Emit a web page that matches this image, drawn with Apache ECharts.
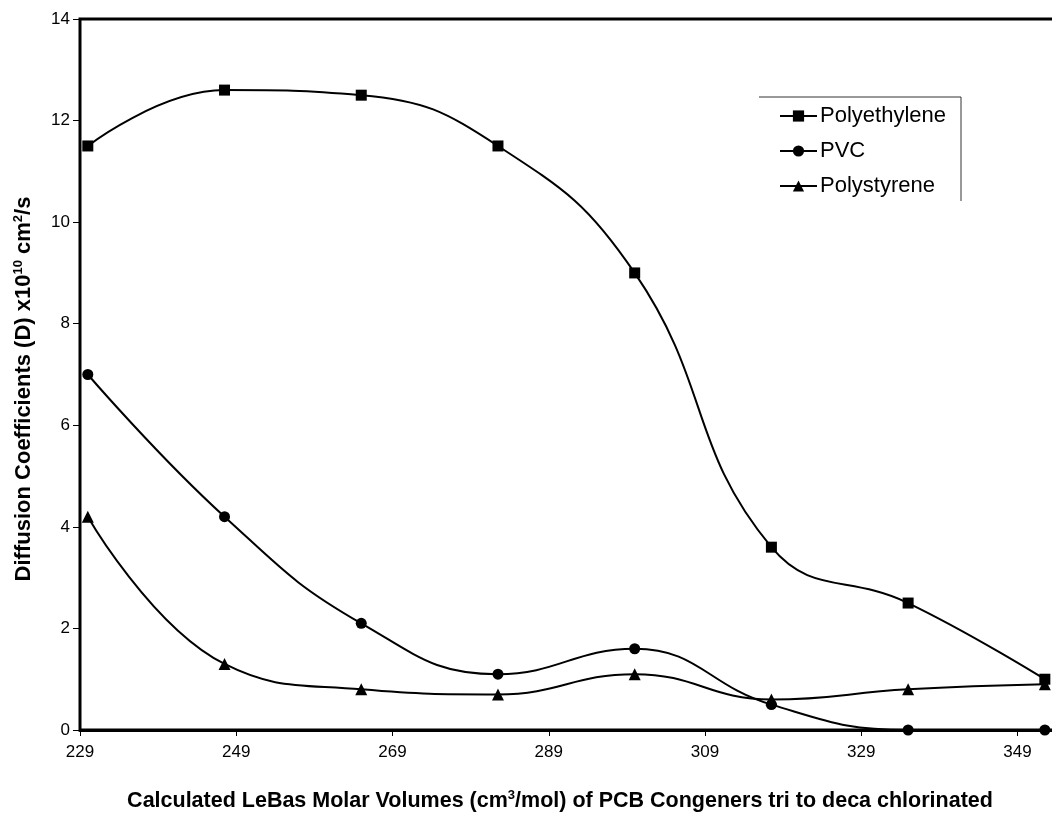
<!DOCTYPE html>
<html>
<head>
<meta charset="utf-8">
<script src="https://cdn.jsdelivr.net/npm/echarts@6/dist/echarts.min.js"></script>
<style>
html,body{margin:0;padding:0;background:#fff;}
#chart{width:1052px;height:816px;}
</style>
</head>
<body>
<div id="chart"></div>
<script>
// ---- data ----
var molarVolumes = [230, 247.5, 265, 282.5, 300, 317.5, 335, 352.5];
var polyethylene = [11.5, 12.6, 12.5, 11.5, 9.0, 3.6, 2.5, 1.0];
var pvc = [7.0, 4.2, 2.1, 1.1, 1.6, 0.5, 0.0, 0.0];
var polystyrene = [4.2, 1.3, 0.8, 0.7, 1.1, 0.6, 0.8, 0.9];
var xTickLabels = [229, 249, 269, 289, 309, 329, 349];
var seriesNames = ['Polyethylene', 'PVC', 'Polystyrene'];

function pairs(ys) {
  return molarVolumes.map(function (x, i) { return [x, ys[i]]; });
}

var FONT = '"Liberation Sans", Arial, sans-serif';
var chart = echarts.init(document.getElementById('chart'), null, {renderer: 'canvas'});

function mk(name, data, symbol, size) {
  return {
    name: name,
    type: 'line',
    data: pairs(data),
    smooth: 0.45,
    symbol: symbol,
    symbolSize: size,
    showAllSymbol: true,
    lineStyle: {color: '#000', width: 2},
    itemStyle: {color: '#000', borderWidth: 0},
    emphasis: {disabled: true},
    z: 3
  };
}

function richBold(size) {
  return {
    b: {fontSize: size, fontWeight: 'bold', fontFamily: FONT, fill: '#000', color: '#000'},
    sup: {fontSize: 13, fontWeight: 'bold', fontFamily: FONT, fill: '#000', color: '#000', verticalAlign: 'top', padding: [0, 0, 11, 0]}
  };
}

chart.setOption({
  animation: false,
  backgroundColor: '#fff',
  grid: {
    left: 80, top: 19, width: 1000, height: 711,
    outerBoundsMode: 'none',
    containLabel: false,
    show: true, borderColor: '#000', borderWidth: 3, backgroundColor: 'transparent'
  },
  xAxis: {
    type: 'value',
    min: 229, max: 357,
    axisLine: {show: true, lineStyle: {color: '#000', width: 3}},
    axisTick: {show: true, customValues: xTickLabels, length: 6, lineStyle: {color: '#000', width: 1}},
    axisLabel: {show: true, customValues: xTickLabels, color: '#000', fontSize: 17, fontFamily: FONT, margin: 14},
    splitLine: {show: false}
  },
  yAxis: {
    type: 'value',
    min: 0, max: 14, interval: 2,
    axisLine: {show: true, lineStyle: {color: '#000', width: 2}},
    axisTick: {show: true, length: 7, lineStyle: {color: '#000', width: 1}},
    axisLabel: {color: '#000', fontSize: 17, fontFamily: FONT, margin: 10},
    splitLine: {show: false}
  },
  legend: {
    data: seriesNames,
    orient: 'vertical',
    left: 774, top: 100,
    itemWidth: 37, itemHeight: 14,
    itemGap: 13,
    textStyle: {fontSize: 22, fontFamily: FONT, color: '#000', padding: [0, 0, 0, -2]},
    selectedMode: false
  },
  graphic: [
    {
      type: 'polyline',
      shape: {points: [[759, 97], [961, 97], [961, 201]]},
      style: {stroke: '#333', lineWidth: 1, fill: null},
      silent: true
    },
    {
      type: 'text',
      x: 560, y: 801,
      style: {
        text: '{b|Calculated LeBas Molar Volumes (cm}{sup|3}{b|/mol) of PCB Congeners tri to deca chlorinated}',
        align: 'center', verticalAlign: 'middle',
        rich: richBold(21.5)
      },
      silent: true
    },
    {
      type: 'text',
      x: 24, y: 389,
      rotation: Math.PI / 2,
      style: {
        text: '{b|Diffusion Coefficients (D) x10}{sup|10}{b| cm}{sup|2}{b|/s}',
        align: 'center', verticalAlign: 'middle',
        rich: richBold(22)
      },
      silent: true
    }
  ],
  series: [
    mk('Polyethylene', polyethylene, 'rect', 11),
    mk('PVC', pvc, 'circle', 11),
    mk('Polystyrene', polystyrene, 'triangle', 12)
  ]
});
</script>
</body>
</html>
